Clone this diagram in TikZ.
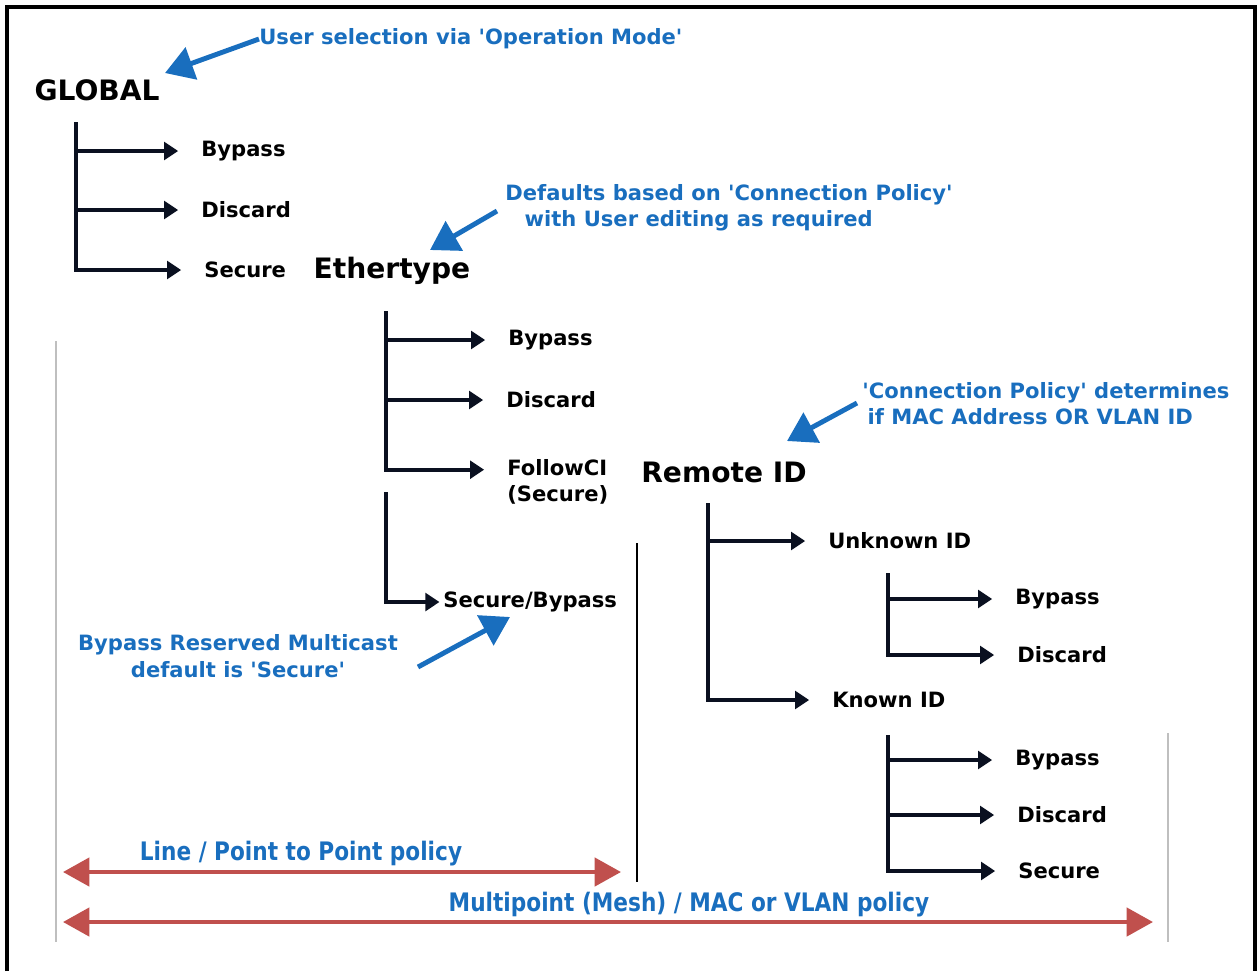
\documentclass[tikz,border=0pt]{standalone}
\usepackage{fontspec}
\setmainfont{DejaVu Sans}
\newfontfamily\narrowfont[FakeStretch=0.85]{DejaVu Sans}
\usepackage{tikz}
\usetikzlibrary{arrows.meta, positioning}
\tikzset{>=stealth}
\definecolor{noteblue}{RGB}{25,110,190}
\definecolor{policyred}{RGB}{192,80,77}
\definecolor{treeink}{RGB}{10,16,32}
\newcommand{\sq}{\textquotesingle}
\tikzset{
  title/.style={font=\fontsize{16}{18}\selectfont\bfseries, inner sep=0pt},
  leaf/.style={font=\fontsize{12}{14.5}\selectfont\bfseries, inner sep=0pt, anchor=west},
  note/.style={font=\fontsize{12}{15}\selectfont\bfseries, text=noteblue, inner sep=0pt},
  policy/.style={font=\narrowfont\fontsize{14.5}{16}\selectfont\bfseries, text=noteblue, inner sep=0pt},
  branch/.style={draw=treeink, line width=2.2pt, -{Triangle[length=8pt, width=10pt]}, shorten >=13pt},
  trunk/.style={draw=treeink, line width=2.2pt},
  pointer/.style={draw=noteblue, line width=2.8pt, -{Triangle[length=16pt, width=19pt]}},
  span/.style={draw=policyred, line width=2.4pt, {Triangle[length=15pt, width=16pt]}-{Triangle[length=15pt, width=16pt]}},
  divider/.style={draw=black!25, line width=1.2pt}
}
\begin{document}
\begin{tikzpicture}[x=0.02cm, y=-0.02cm]
		\useasboundingbox (0,0) rectangle (1257,971);
		\draw [line width=1.8pt] (7,971) -- (7,7) -- (1255,7) -- (1255,971);
		
		% global level
		\node [title] (global) at (97,90) {GLOBAL};
		\coordinate (gtop) at (76,122);
		\node [leaf] (gbypass) at (201,151) {Bypass};
		\node [leaf] (gdiscard) at (201,210) {Discard};
		\node [leaf] (gsecure) at (204,270) {Secure};
		\draw [branch] (gtop |- gbypass) -- (gbypass);
		\draw [branch] (gtop |- gdiscard) -- (gdiscard);
		\draw [branch] (gtop) |- (gsecure);
		\node [note, anchor=west] (opmode) at (259,39) {User selection via \sq Operation Mode\sq};
		\coordinate (opmodetip) at (165,73);
		\draw [pointer] (opmode.west) -- (opmodetip);
		
		% ethertype level
		\node [title] (ether) at (392,271) {Ethertype};
		\coordinate (etop) at (386,311);
		\node [leaf] (ebypass) at (508,340) {Bypass};
		\node [leaf] (ediscard) at (506,400) {Discard};
		\node [leaf, align=left] (efollow) at (507,482) {FollowCI\\(Secure)};
		\node [leaf] (esecbyp) at (443,602) {Secure/Bypass};
		\coordinate (emid) at (386,492);
		\draw [branch] (etop |- ebypass) -- (ebypass);
		\draw [branch] (etop |- ediscard) -- (ediscard);
		\draw [branch] (etop) |- ([yshift=7pt]efollow.west);
		\draw [branch, shorten >=2pt] (emid) |- (esecbyp);
		\node [note, align=left, anchor=north west] (connpol) at (505,184) {Defaults based on \sq Connection Policy\sq\\\hspace{11pt}with User editing as required};
		\coordinate (connfrom) at (497,211);
		\coordinate (ethertip) at (430,250);
		\draw [pointer] (connfrom) -- (ethertip);
		\node [note, align=center] (multicast) at (238,656) {Bypass Reserved Multicast\\default is \sq Secure\sq};
		\coordinate (mcfrom) at (418,667);
		\coordinate (mctip) at (510,617);
		\draw [pointer] (mcfrom) -- (mctip);
		
		% remote id level
		\node [title] (remote) at (724,472) {Remote ID};
		\coordinate (rtop) at (708,503);
		\node [leaf] (unknown) at (828,541) {Unknown ID};
		\node [leaf] (known) at (832,700) {Known ID};
		\draw [branch] (rtop |- unknown) -- (unknown);
		\draw [branch] (rtop) |- (known);
		\node [note, align=left, anchor=north west] (macvlan) at (862,382) {\sq Connection Policy\sq\ determines\\\hspace{3pt}if MAC Address OR VLAN ID};
		\coordinate (remotetip) at (787,441);
		\draw [pointer] (857,403) -- (remotetip);
		
		% unknown id
		\coordinate (utop) at (888,573);
		\node [leaf] (ubypass) at (1015,599) {Bypass};
		\node [leaf] (udiscard) at (1017,655) {Discard};
		\draw [branch] (utop |- ubypass) -- (ubypass);
		\draw [branch] (utop) |- (udiscard);
		
		% known id
		\coordinate (ktop) at (888,735);
		\node [leaf] (kbypass) at (1015,760) {Bypass};
		\node [leaf] (kdiscard) at (1017,815) {Discard};
		\node [leaf] (ksecure) at (1018,871) {Secure};
		\draw [branch] (ktop |- kbypass) -- (kbypass);
		\draw [branch] (ktop |- kdiscard) -- (kdiscard);
		\draw [branch] (ktop) |- (ksecure);
		
		% policy spans
		\coordinate (lineL) at (56,341);
		\coordinate (lineR) at (637,543);
		\coordinate (meshR) at (1168,733);
		\draw [divider] (lineL) -- (lineL |- 0,942);
		\draw [draw=black, line width=0.8pt] (lineR) -- (lineR |- 0,882);
		\draw [divider] (meshR) -- (meshR |- 0,942);
		\coordinate (p2pA) at (63,872);
		\coordinate (p2pB) at (621,872);
		\coordinate (meshA) at (63,922);
		\coordinate (meshB) at (1153,922);
		\draw [span] (p2pA) -- (p2pB);
		\draw [span] (meshA) -- (meshB);
		\node [policy] (p2plabel) at (301,854) {Line / Point to Point policy};
		\node [policy] (meshlabel) at (689,905) {Multipoint (Mesh) / MAC or VLAN policy};
\end{tikzpicture}
\end{document}
